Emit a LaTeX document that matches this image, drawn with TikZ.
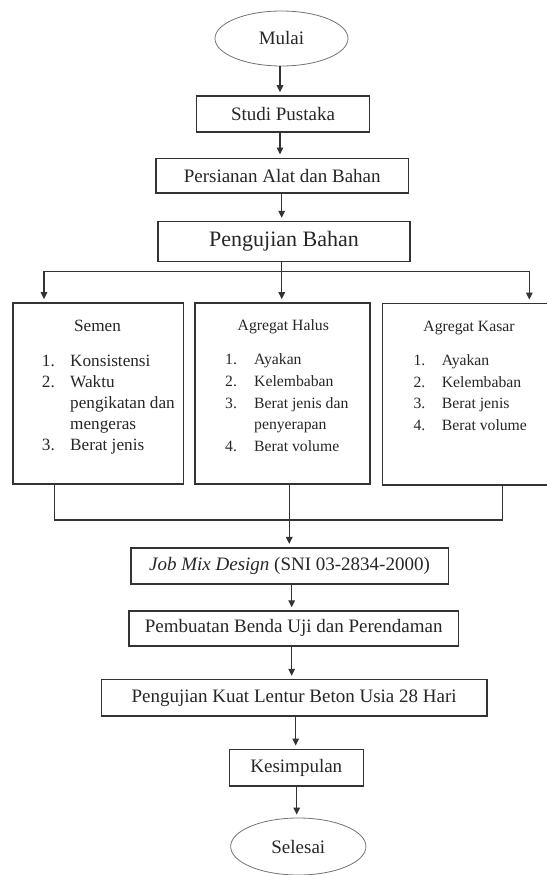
\documentclass[tikz,border=0pt]{standalone}
\usepackage{fontspec}
\setmainfont{Liberation Serif}
\usetikzlibrary{arrows.meta,shapes.geometric}
\begin{document}
\begin{tikzpicture}[x=1pt,y=-1pt,
  box/.style={draw=black!80,line width=1.6pt,rectangle,inner sep=0pt,
    font=\fontsize{19}{22}\selectfont,text=black!85},
  term/.style={draw=black!55,line width=0.8pt,ellipse,inner sep=0pt,
    font=\fontsize{19}{22}\selectfont,text=black!85},
  conn/.style={draw=black!80,line width=1.4pt},
  arr/.style={conn,-{Triangle[width=6.5pt,length=7pt]},shorten >=3pt},
  barr/.style={conn,{Triangle[width=6.5pt,length=7pt]}-{Triangle[width=6.5pt,length=7pt]},shorten >=3pt,shorten <=3pt},
  ttlA/.style={anchor=base,inner sep=0pt,text=black!85,font=\fontsize{17.2}{21}\selectfont},
  ttlB/.style={anchor=base,inner sep=0pt,text=black!85,font=\fontsize{15.7}{21.8}\selectfont},
  lstA/.style={anchor=base west,inner sep=0pt,text=black!85,font=\fontsize{17.2}{21}\selectfont},
  lstB/.style={anchor=base west,inner sep=0pt,text=black!85,font=\fontsize{15.7}{21.8}\selectfont}
]
\useasboundingbox (0,0) rectangle (546,875);

% main flow nodes
\node[term,minimum width=133pt,minimum height=55pt] (mulai) at (281.5,38.5) {Mulai};
\node[box,minimum width=173pt,minimum height=36pt] (studi) at (283,114) {Studi Pustaka};
\node[box,minimum width=252.5pt,minimum height=34.4pt] (pers) at (282.2,175.5) {Persianan Alat dan Bahan};
\node[box,minimum width=252pt,minimum height=40pt,font=\fontsize{22}{25}\selectfont] (uji) at (284,241.6) {Pengujian Bahan};

% material boxes
\node[box,minimum width=170.6pt,minimum height=181pt] (semen) at (98,393.5) {};
\node[box,minimum width=175pt,minimum height=181pt] (halus) at (282.5,393.5) {};
\node[box,minimum width=173.3pt,minimum height=181.5pt] (kasar) at (469.3,394.2) {};

\node[ttlA] (tsemen) at (97.5,331.7) {Semen};
\node[lstA] (lsemen) at (41.7,366.5) {\begin{tabular}[t]{@{}p{28.3pt}@{}l@{}}
1. & Konsistensi\\
2. & Waktu\\
   & pengikatan dan\\
   & mengeras\\
3. & Berat jenis
\end{tabular}};

\node[ttlB] (thalus) at (283.3,330.2) {Agregat Halus};
\node[lstB] (lhalus) at (225,364.5) {\begin{tabular}[t]{@{}p{29pt}@{}l@{}}
1. & Ayakan\\
2. & Kelembaban\\
3. & Berat jenis dan\\
   & penyerapan\\
4. & Berat volume
\end{tabular}};

\node[ttlB] (tkasar) at (469,331.9) {Agregat Kasar};
\node[lstB] (lkasar) at (413.3,365.2) {\begin{tabular}[t]{@{}p{28.4pt}@{}l@{}}
1. & Ayakan\\
2. & Kelembaban\\
3. & Berat jenis\\
4. & Berat volume
\end{tabular}};

% lower flow nodes
\node[box,minimum width=317.6pt,minimum height=36.3pt] (jmd) at (289.5,565.9) {\textit{Job Mix Design} (SNI 03-2834-2000)};
\node[box,minimum width=329.3pt,minimum height=34.7pt] (buat) at (293.7,628.4) {Pembuatan Benda Uji dan Perendaman};
\node[box,minimum width=385.2pt,minimum height=36.5pt] (kuat) at (294.1,697.8) {Pengujian Kuat Lentur Beton Usia 28 Hari};
\node[box,minimum width=134pt,minimum height=36.7pt] (kes) at (296.3,767.7) {Kesimpulan};
\node[term,minimum width=135.3pt,minimum height=57pt] (sel) at (298.3,846.5) {Selesai};

% connector columns
\coordinate (c1) at (280,0);
\coordinate (c2) at (281.7,0);
\coordinate (c3) at (289.3,0);
\coordinate (c4) at (291.7,0);
\coordinate (c5) at (295.7,0);
\coordinate (c6) at (296.7,0);
\coordinate (bl) at (44,271.7);
\coordinate (brr) at (529.3,271.7);
\coordinate (ml) at (54.7,520);
\coordinate (mr) at (502.7,520);

\draw[arr] (c1 |- mulai.south) -- (c1 |- studi.north);
\draw[arr] (c1 |- studi.south) -- (c1 |- pers.north);
\draw[arr] (c2 |- pers.south) -- (c2 |- uji.north);
\draw[arr] (c2 |- uji.south) -- (c2 |- halus.north);
\draw[barr] (bl |- semen.north) -- (bl) -- (brr) -- (brr |- kasar.north);

\draw[conn] (ml |- semen.south) -- (ml) -- (mr) -- (mr |- kasar.south);
\draw[arr] (c3 |- halus.south) -- (c3 |- jmd.north);
\draw[arr] (c4 |- jmd.south) -- (c4 |- buat.north);
\draw[arr] (c4 |- buat.south) -- (c4 |- kuat.north);
\draw[arr] (c5 |- kuat.south) -- (c5 |- kes.north);
\draw[arr] (c6 |- kes.south) -- (c6 |- sel.north);
\end{tikzpicture}
\end{document}
